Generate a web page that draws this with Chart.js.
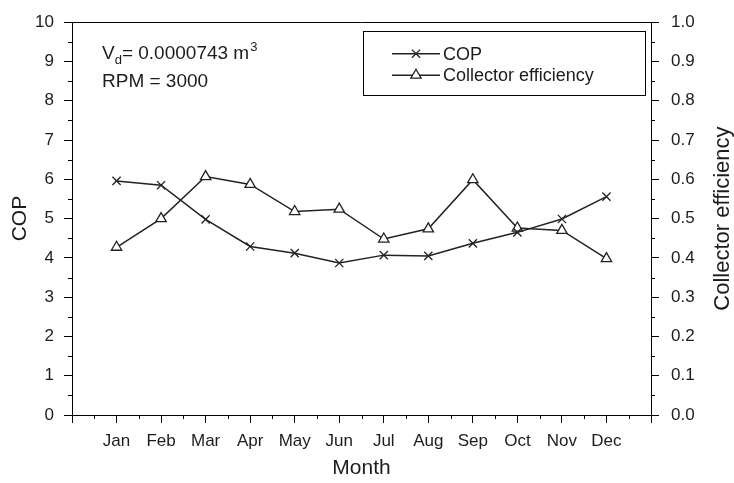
<!DOCTYPE html>
<html>
<head>
<meta charset="utf-8">
<title>COP and collector efficiency by month</title>
<script src="https://cdn.jsdelivr.net/npm/chart.js@4/dist/chart.umd.min.js"></script>
<style>
  html, body { margin: 0; padding: 0; background: #fff; }
  canvas { display: block; }
</style>
</head>
<body>
<canvas id="chart" width="734" height="483"></canvas>
<script>
// Month labels on the x axis (placed at positions 1..12)
const months = ['Jan', 'Feb', 'Mar', 'Apr', 'May', 'Jun', 'Jul', 'Aug', 'Sep', 'Oct', 'Nov', 'Dec'];

// Coefficient of performance (left axis)
const cop = [5.96, 5.85, 4.98, 4.29, 4.12, 3.87, 4.07, 4.05, 4.37, 4.65, 4.99, 5.56];

// Collector efficiency (right axis)
const collectorEfficiency = [0.427, 0.500, 0.607, 0.587, 0.518, 0.524, 0.448, 0.474, 0.599, 0.476, 0.470, 0.398];

// Operating conditions shown in the corner note
const displacement = '0.0000743';
const rpm = 3000;

const FONT = '"Liberation Sans", Arial, Helvetica, sans-serif';
const INK = '#1c1c1c';

Chart.defaults.font.family = FONT;
Chart.defaults.color = INK;

const toPoints = values => values.map((v, i) => ({ x: i + 1, y: v }));

// Short ticks at the half steps between the labelled ones, plus the top edge of the frame
const framePlugin = {
  id: 'frame',
  afterDraw(chart) {
    const { ctx, chartArea: a, scales } = chart;
    ctx.save();
    ctx.strokeStyle = '#000';
    ctx.lineWidth = 1;
    ctx.beginPath();
    ctx.moveTo(a.left, Math.round(a.top) + 0.5);
    ctx.lineTo(a.right, Math.round(a.top) + 0.5);

    const halfSteps = (scale, step) => {
      const out = [];
      for (let v = scale.min + step / 2; v < scale.max; v += step) out.push(scale.getPixelForValue(v));
      return out;
    };
    halfSteps(scales.x, 1).forEach(px => {
      const x = Math.round(px) + 0.5;
      ctx.moveTo(x, a.bottom);
      ctx.lineTo(x, a.bottom + 4);
    });
    halfSteps(scales.y, 1).forEach(py => {
      const y = Math.round(py) + 0.5;
      ctx.moveTo(a.left, y);
      ctx.lineTo(a.left - 4, y);
    });
    halfSteps(scales.y1, 0.1).forEach(py => {
      const y = Math.round(py) + 0.5;
      ctx.moveTo(a.right, y);
      ctx.lineTo(a.right + 4, y);
    });
    ctx.stroke();

    // Right-hand axis title, reading bottom to top like the left one
    ctx.fillStyle = INK;
    ctx.font = '22px ' + FONT;
    ctx.textAlign = 'center';
    ctx.textBaseline = 'middle';
    ctx.translate(chart.width - 11, (a.top + a.bottom) / 2);
    ctx.rotate(-Math.PI / 2);
    ctx.fillText('Collector efficiency', 0, 0);
    ctx.restore();
  }
};

function drawMarker(ctx, style, radius, x, y) {
  if (Chart.helpers && Chart.helpers.drawPoint) {
    Chart.helpers.drawPoint(ctx, { pointStyle: style, radius, rotation: 0, borderWidth: ctx.lineWidth }, x, y);
    return;
  }
  ctx.beginPath();
  if (style === 'crossRot') {
    const d = radius * Math.SQRT1_2;
    ctx.moveTo(x - d, y - d); ctx.lineTo(x + d, y + d);
    ctx.moveTo(x - d, y + d); ctx.lineTo(x + d, y - d);
    ctx.stroke();
  } else {
    for (let k = 0; k < 3; k++) {
      const ang = -Math.PI / 2 + k * 2 * Math.PI / 3;
      const px = x + radius * Math.cos(ang), py = y + radius * Math.sin(ang);
      k === 0 ? ctx.moveTo(px, py) : ctx.lineTo(px, py);
    }
    ctx.closePath();
    ctx.fill();
    ctx.stroke();
  }
}

// Boxed legend in the upper right of the plot, plus the operating-condition note
const notesPlugin = {
  id: 'notes',
  afterDraw(chart) {
    const { ctx, chartArea: a } = chart;
    ctx.save();

    // legend box
    const x0 = a.right - 288, y0 = a.top + 9, w = 282, h = 64;
    ctx.strokeStyle = '#000';
    ctx.lineWidth = 1;
    ctx.strokeRect(Math.round(x0) + 0.5, Math.round(y0) + 0.5, w, h);

    const rows = [a.top + 31.5, a.top + 53];
    chart.data.datasets.forEach((ds, i) => {
      const y = rows[i];
      ctx.strokeStyle = ds.borderColor;
      ctx.lineWidth = ds.borderWidth;
      ctx.beginPath();
      ctx.moveTo(x0 + 29, y);
      ctx.lineTo(x0 + 77, y);
      ctx.stroke();
      ctx.fillStyle = '#fff';
      ctx.lineWidth = ds.pointBorderWidth;
      drawMarker(ctx, ds.pointStyle, ds.pointRadius, x0 + 53, y);
      ctx.fillStyle = INK;
      ctx.font = '18px ' + FONT;
      ctx.textAlign = 'left';
      ctx.textBaseline = 'middle';
      ctx.fillText(ds.label, x0 + 80, y + 1);
    });

    // operating conditions
    ctx.fillStyle = INK;
    ctx.textAlign = 'left';
    ctx.textBaseline = 'alphabetic';
    let x = a.left + 30;
    const base = a.top + 37;
    ctx.font = '19px ' + FONT;
    ctx.fillText('V', x, base);
    x += ctx.measureText('V').width;
    ctx.font = '13px ' + FONT;
    ctx.fillText('d', x, base + 5);
    x += ctx.measureText('d').width;
    ctx.font = '19px ' + FONT;
    const main = '= ' + displacement + ' m';
    ctx.fillText(main, x, base);
    x += ctx.measureText(main).width;
    ctx.font = '13px ' + FONT;
    ctx.fillText('3', x + 1, base - 8);
    ctx.font = '19px ' + FONT;
    ctx.fillText('RPM = ' + rpm, a.left + 30, base + 28);
    ctx.restore();
  }
};

const axisLine = { display: true, color: '#000', width: 1 };
const tickGrid = { drawOnChartArea: false, drawTicks: true, tickLength: 8, color: '#000', lineWidth: 1 };

new Chart(document.getElementById('chart'), {
  type: 'line',
  data: {
    datasets: [
      {
        label: 'COP',
        data: toPoints(cop),
        yAxisID: 'y',
        borderColor: '#222',
        borderWidth: 1.5,
        pointStyle: 'crossRot',
        pointRadius: 5.8,
        pointBorderWidth: 1.3,
        pointBorderColor: '#222',
        pointBackgroundColor: '#fff',
        tension: 0,
        fill: false
      },
      {
        label: 'Collector efficiency',
        data: toPoints(collectorEfficiency),
        yAxisID: 'y1',
        borderColor: '#222',
        borderWidth: 1.5,
        pointStyle: 'triangle',
        pointRadius: 6,
        pointBorderWidth: 1.3,
        pointBorderColor: '#222',
        pointBackgroundColor: '#fff',
        tension: 0,
        fill: false
      }
    ]
  },
  options: {
    responsive: false,
    animation: false,
    devicePixelRatio: 1,
    layout: { padding: { top: 16, left: 0, right: 0, bottom: 0 } },
    plugins: { legend: { display: false }, tooltip: { enabled: false } },
    scales: {
      x: {
        type: 'linear',
        position: 'bottom',
        min: 0,
        max: months.length + 1,
        border: axisLine,
        grid: tickGrid,
        ticks: {
          stepSize: 1,
          autoSkip: false,
          maxRotation: 0,
          padding: 8,
          font: { size: 17 },
          callback: v => months[v - 1] || ''
        },
        title: { display: true, text: 'Month', font: { size: 21 }, padding: { top: 0, bottom: 2 } },
        afterFit: s => { s.height = 68; }
      },
      y: {
        position: 'left',
        min: 0,
        max: 10,
        border: axisLine,
        grid: tickGrid,
        ticks: { stepSize: 1, padding: 10, font: { size: 17 } },
        title: { display: true, text: 'COP', font: { size: 21 }, padding: { top: 8, bottom: 0 } },
        afterFit: s => { s.width = 72; }
      },
      y1: {
        position: 'right',
        min: 0,
        max: 1,
        border: axisLine,
        grid: tickGrid,
        ticks: { stepSize: 0.1, padding: 12, font: { size: 17 }, callback: v => v.toFixed(1) },
        title: { display: false },
        afterFit: s => { s.width = 83; }
      }
    }
  },
  plugins: [framePlugin, notesPlugin]
});
</script>
</body>
</html>
